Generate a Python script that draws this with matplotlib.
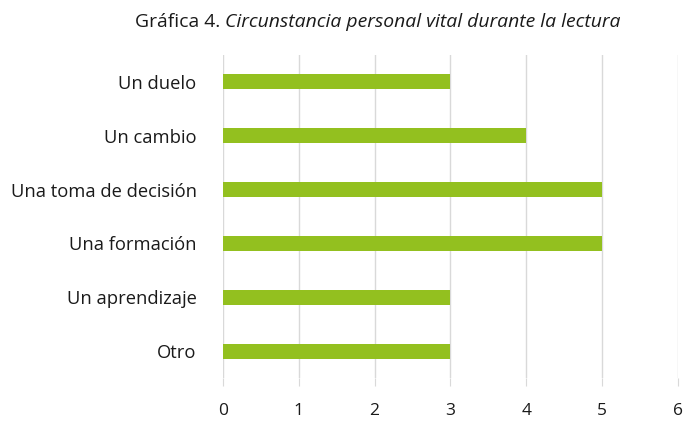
import matplotlib
matplotlib.use("Agg")
import matplotlib.pyplot as plt

categories = ["Un duelo", "Un cambio", "Una toma de decisión", "Una formación", "Un aprendizaje", "Otro"]
values = [3, 4, 5, 5, 3, 3]
xticks = [0, 1, 2, 3, 4, 5, 6]
title_a = "Gráfica 4. "
title_b = "Circunstancia personal vital durante la lectura"

plt.rcParams['font.family'] = ['Open Sans', 'DejaVu Sans']

fig = plt.figure(figsize=(6.84, 4.22), dpi=100)
ax = fig.add_axes([0.326, 0.104, 0.665, 0.766])

y = list(range(len(categories)))
ax.barh(y, values, height=0.28, color="#93c01f", zorder=3)
ax.set_yticks(y)
ax.set_yticklabels(categories, fontsize=13.2, color="#1a1a1a")
ax.set_ylim(len(categories) - 0.5, -0.5)
ax.set_xlim(0, 6)
ax.set_xticks(xticks)
ax.set_xticklabels([str(t) for t in xticks], fontsize=12.5, color="#1a1a1a")
ax.grid(axis="x", color="#d9d9d9", linewidth=1, zorder=0)
for s in ax.spines.values():
    s.set_visible(False)
ax.tick_params(axis="y", length=0, pad=19)
ax.tick_params(axis="x", length=6, color="#d9d9d9", pad=12)

# title: measure and center
fs = 12.5
ta = fig.text(0, 0.948, title_a, ha="left", va="center", fontsize=fs, color="#1a1a1a")
tb = fig.text(0, 0.948, title_b, ha="left", va="center", fontsize=fs, style="italic", color="#1a1a1a")
fig.canvas.draw()
r = fig.canvas.get_renderer()
wa = ta.get_window_extent(r).width
wb = tb.get_window_extent(r).width
scale = 487.0 / (wa + wb)
ta.set_fontsize(fs * scale)
tb.set_fontsize(fs * scale)
fig.canvas.draw()
wa = ta.get_window_extent(r).width
wb = tb.get_window_extent(r).width
W = fig.bbox.width
x0 = (378.0 - (wa + wb) / 2) / W
ta.set_x(x0)
tb.set_x(x0 + wa / W)

fig.savefig("out.png", dpi=100)
